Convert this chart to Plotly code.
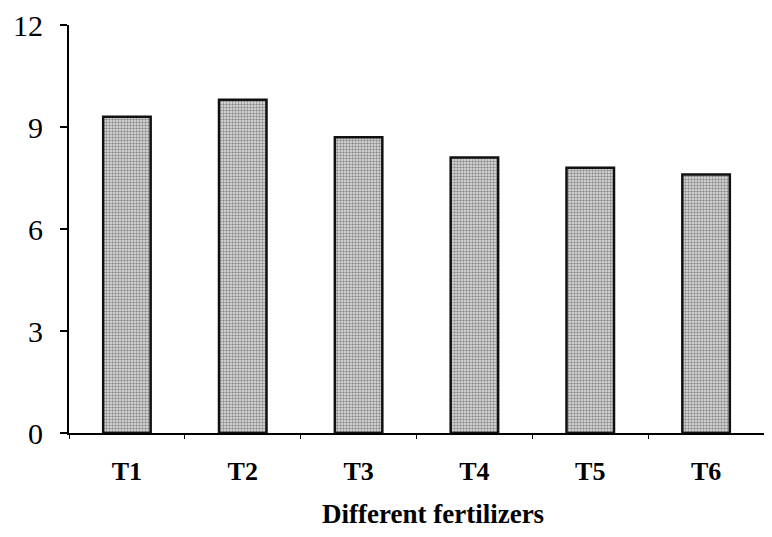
import plotly.graph_objects as go

treatments = ['T1', 'T2', 'T3', 'T4', 'T5', 'T6']
values = [9.3, 9.8, 8.7, 8.1, 7.8, 7.6]
y_ticks = [0, 3, 6, 9, 12]

fig = go.Figure()

fig.add_trace(go.Bar(
    x=treatments,
    y=values,
    width=0.41,
    marker=dict(
        color='#b5b5b5',
        line=dict(color='#111111', width=2.5),
        pattern=dict(shape='.', fgcolor='#333333', bgcolor='#e4e4e4', size=3, solidity=0.5),
    ),
))

# page body has an 8px margin, so the figure is shrunk/shifted to line up
fig.update_layout(
    width=756, height=521,
    margin=dict(l=61, r=0, t=17, b=96),
    plot_bgcolor='white', paper_bgcolor='white',
    font=dict(family='Liberation Serif', color='black'),
    showlegend=False,
)

fig.update_xaxes(
    showline=True, linecolor='black', linewidth=2,
    ticks='outside', tickson='boundaries', ticklen=4, tickwidth=1, tickcolor='black',
    tickfont=dict(size=26, family='Liberation Serif'),
    ticklabelstandoff=14,
    tickprefix='<b>', ticksuffix='</b>',
    showgrid=False,
)

# axis title sits a little right of centre in the original
fig.add_annotation(
    text='<b>Different fertilizers</b>', font=dict(size=27),
    xref='paper', yref='paper', x=0.524, y=0, yshift=-81,
    xanchor='center', yanchor='middle', showarrow=False,
)

fig.update_yaxes(
    range=[0, 12], tickvals=y_ticks,
    showline=True, linecolor='black', linewidth=2,
    ticks='outside', ticklen=7, tickwidth=2, tickcolor='black',
    tickfont=dict(size=30),
    ticklabelstandoff=11,
    showgrid=False, zeroline=False,
)

fig.write_html("out.html")
